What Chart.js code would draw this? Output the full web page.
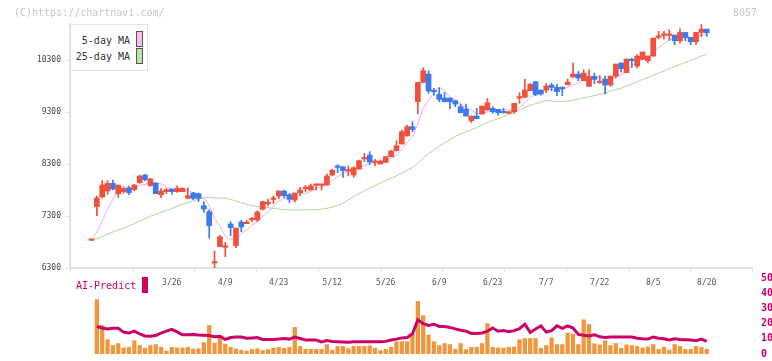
<!DOCTYPE html>
<html>
<head>
<meta charset="utf-8">
<title>8057</title>
<script src="https://cdn.jsdelivr.net/npm/chart.js@4.4.1/dist/chart.umd.min.js"></script>
<style>
  body { margin: 0; background: #fff; }
  #wrap { position: relative; width: 772px; height: 361px; overflow: hidden; font-family: 'DejaVu Sans Mono', monospace; }
  canvas { position: absolute; left: 0; }
  #main { top: 0; }
  #ai { top: 270px; }
  .txt { position: absolute; font-size: 10px; line-height: 12px; white-space: nowrap; }
  .box { position: absolute; }
</style>
</head>
<body>
<div id="wrap">
  <canvas id="main" width="772" height="300"></canvas>
  <canvas id="ai" width="772" height="91"></canvas>

  <div class="txt" style="left:14px;top:7px;color:#c6c6c6">(C)https://chartnavi.com/</div>
  <div class="txt" style="right:15px;top:7px;color:#c6c6c6">8057</div>

  <div class="box" style="left:70px;top:24px;width:76px;height:45px;border:1px solid #e2e2e2;background:#fff"></div>
  <div class="txt" style="left:70px;width:60px;text-align:right;top:35px;color:#333">5-day MA</div>
  <div class="txt" style="left:70px;width:60px;text-align:right;top:51px;color:#333">25-day MA</div>
  <div class="box" style="left:136px;top:31px;width:5px;height:14px;border:1px solid #555;background:#f0c0f0"></div>
  <div class="box" style="left:136px;top:48px;width:5px;height:14px;border:1px solid #555;background:#c0e0b0"></div>

  <div class="txt" style="left:76px;top:280px;color:#cc0066">AI-Predict</div>
  <div class="box" style="left:142px;top:277px;width:6px;height:16px;background:#cc0066"></div>
</div>

<script>
// tick labels
const dateLabels = ['3/26', '4/9', '4/23', '5/12', '5/26', '6/9', '6/23', '7/7', '7/22', '8/5', '8/20'];
const labelIdx = [15, 25, 35, 45, 55, 65, 75, 85, 95, 105, 115];
const priceTicks = [6300, 7300, 8300, 9300, 10300];

// daily candles (index 0 = first day shown)
const opens = [6833,7481,7667,7783,7930,7731,7770,7841,7808,7943, 8091,7885,7937,7712,7770,7821,7770,7770,7642,7744,
  7731,7500,7385,6396,6711,6698,7147,6730,7186,7154, 7230,7224,7430,7539,7622,7687,7783,7712,7609,7751,
  7828,7802,7892,7892,7898,8091,8245,8251,8168,8091, 8206,8400,8476,8335,8303,8335,8444,8560,8688,8842,
  9022,9503,9875,10036,9702,9644,9574,9574,9522,9407, 9362,9137,9227,9266,9343,9375,9355,9294,9278,9311,
  9573,9587,9715,9888,9728,9728,9824,9779,9760,9830, 9978,10036,9907,9798,9991,9868,9933,9824,9997,10248,
  10062,10299,10190,10318,10293,10383,10742,10781,10781,10787, 10678,10838,10742,10658,10838,10902];
const highs = [6833,7687,7982,7982,7995,7898,7847,7879,7911,8091, 8104,8027,7937,7834,7834,7821,7885,7847,7847,7757,
  7744,7577,7423,6627,6923,6794,7192,7070,7218,7224, 7276,7404,7590,7622,7687,7783,7802,7738,7744,7853,
  7892,7918,7918,7918,8110,8200,8290,8251,8264,8251, 8380,8508,8540,8393,8380,8444,8572,8752,8958,9047,
  9118,9875,10158,10100,9760,9773,9676,9574,9522,9458, 9458,9227,9375,9420,9567,9407,9355,9375,9311,9471,
  9676,9933,9856,9888,9728,9856,9856,9837,9792,9940, 10248,10087,10119,10119,10055,10010,9991,9997,10228,10254,
  10325,10344,10408,10460,10383,10729,10857,10857,10890,10787, 10909,10838,10742,10838,10990,10902];
const lows = [6833,7308,7648,7719,7802,7661,7738,7712,7789,7930, 7975,7873,7731,7654,7731,7719,7757,7770,7642,7616,
  7577,7372,6871,6300,6711,6518,6923,6692,7000,7154, 7186,7192,7417,7494,7539,7635,7654,7558,7571,7693,
  7770,7802,7802,7802,7892,8072,8136,8046,8072,8046, 8206,8348,8296,8264,8303,8335,8444,8560,8688,8842,
  8925,9266,9875,9664,9631,9503,9503,9362,9407,9291, 9227,9099,9176,9266,9343,9278,9246,9285,9278,9278,
  9471,9587,9715,9619,9630,9676,9715,9619,9619,9830, 9978,9907,9907,9798,9850,9856,9651,9798,9959,10074,
  10062,10164,10151,10318,10248,10376,10710,10710,10684,10601, 10633,10678,10601,10601,10755,10761];
const closes = [6833,7648,7898,7930,7821,7898,7834,7751,7898,8072, 8001,8014,7731,7783,7808,7770,7834,7834,7693,7642,
  7642,7436,7115,6422,6903,6711,7077,7070,7090,7186, 7243,7378,7577,7545,7629,7783,7693,7622,7744,7802,
  7834,7885,7898,7898,8072,8187,8238,8174,8174,8232, 8367,8406,8341,8341,8354,8444,8553,8656,8925,9022,
  8970,9875,10100,9708,9695,9548,9503,9503,9458,9291, 9227,9227,9176,9420,9484,9311,9291,9291,9311,9471,
  9580,9728,9837,9644,9651,9805,9779,9696,9753,9882, 10036,9959,10055,9991,9933,9875,9824,9997,10228,10139,
  10325,10293,10383,10460,10383,10729,10748,10787,10787,10678, 10838,10735,10658,10838,10902,10832];

// moving averages
const ma5 = [6833,6996,7209,7428,7626,7839,7876,7847,7840,7891, 7911,7947,7943,7920,7867,7821,7785,7806,7788,7755,
  7729,7649,7506,7251,7104,6917,6846,6837,6970,7027, 7133,7193,7295,7386,7474,7582,7645,7654,7694,7729,
  7739,7777,7833,7863,7917,7988,8059,8114,8169,8201, 8237,8271,8304,8337,8362,8377,8408,8471,8588,8719,
  8824,9087,9376,9532,9670,9785,9711,9591,9541,9461, 9396,9341,9276,9268,9307,9324,9336,9359,9338,9335,
  9389,9476,9585,9652,9688,9733,9743,9715,9737,9784, 9830,9866,9938,9985,9995,9963,9936,9924,9971,10013,
  10103,10196,10274,10320,10369,10450,10541,10621,10687,10746, 10768,10765,10739,10749,10794,10793];
const ma25 = [6833,6866,6908,6952,6992,7034,7074,7111,7154,7203, 7250,7297,7333,7371,7410,7447,7488,7528,7562,7594,
  7627,7651,7662,7646,7648,7644,7621,7588,7554,7529, 7502,7484,7477,7463,7445,7437,7424,7419,7418,7418,
  7420,7422,7425,7433,7450,7472,7504,7546,7617,7670, 7736,7789,7840,7890,7937,7985,8032,8075,8130,8186,
  8233,8321,8420,8498,8574,8643,8707,8771,8834,8883, 8924,8964,9004,9054,9104,9142,9177,9215,9254,9298,
  9344,9391,9438,9467,9492,9525,9522,9505,9507,9515, 9534,9552,9575,9596,9622,9647,9671,9704,9736,9763,
  9803,9843,9887,9933,9969,10015,10056,10094,10140,10181, 10222,10261,10299,10342,10383,10415];

// AI-Predict panel
const aiBars = [null,35.8,18.8,9.4,5.6,6.9,4.0,4.4,8.8,5.6, 3.8,5.6,6.2,4.4,1.9,4.4,4.0,4.0,4.4,3.3,
  3.5,7.5,18.8,7.1,11.2,6.5,4.4,3.3,2.5,1.9, 3.0,3.5,2.3,2.9,3.8,4.4,3.8,4.4,17.5,5.0,
  3.1,3.1,3.1,3.1,6.2,2.5,5.0,5.0,3.5,5.0, 5.0,5.0,5.4,3.8,2.3,3.1,4.4,8.1,8.1,8.1,
  12.9,34.6,25.2,12.5,8.1,5.6,6.9,6.2,3.1,6.9, 2.9,4.4,4.4,6.9,20.0,4.4,4.0,3.9,4.5,4.6,
  9.4,10.2,10.2,10.2,3.8,5.6,10.6,6.2,6.2,13.8, 13.1,6.2,22.5,19.4,6.7,6.0,8.8,5.6,6.9,3.8,
  6.0,5.6,5.0,4.0,4.6,6.2,3.1,4.6,2.5,6.2, 5.0,3.1,3.1,5.0,4.4,3.1];
const aiLine = [null,18.1,17.1,16.5,16.9,16.9,14.4,13.8,15.0,13.3, 11.9,11.7,12.1,13.8,15.0,16.2,14.6,12.7,12.7,12.9,
  12.5,12.3,12.1,11.3,11.7,9.6,10.8,11.2,11.2,10.4, 10.6,10.8,9.6,9.6,9.6,9.8,10.2,9.8,11.2,10.2,
  9.2,9.2,9.2,7.9,8.8,8.3,8.1,7.9,7.7,8.1, 8.1,8.1,8.1,8.1,8.1,8.3,9.2,9.8,10.6,10.8,
  13.3,22.5,20.0,18.8,19.6,18.1,18.1,17.5,16.5,15.6, 15.0,13.5,13.5,13.8,15.0,17.1,15.0,15.4,14.6,15.4,
  16.7,19.6,14.2,16.5,18.5,14.4,15.4,18.5,16.9,18.5, 17.1,12.9,12.3,11.9,12.7,11.3,10.8,11.2,11.2,11.2,
  11.2,11.2,10.4,10.0,9.8,11.2,10.4,10.0,9.2,10.0, 9.6,9.4,9.2,8.8,9.8,8.3];

const FONT = "'DejaVu Sans Mono', monospace";
const RED = '#f0503c';
const BLUE = '#3c78f0';
const AXIS = '#e2e2e2';
const xMin = -4.02;
const xMax = 123.46;

Chart.defaults.font.family = FONT;

const idx = closes.map((c, i) => i);
const candleColors = idx.map(i => closes[i] >= opens[i] ? RED : BLUE);

// price panel
new Chart(document.getElementById('main'), {
  type: 'bar',
  data: {
    datasets: [
      {
        type: 'line', label: '5-day MA', xAxisID: 'x', order: 3,
        data: idx.map(i => ({ x: i, y: ma5[i] })),
        borderColor: '#e6aee6', borderWidth: 1, pointRadius: 0
      },
      {
        type: 'line', label: '25-day MA', xAxisID: 'x', order: 4,
        data: idx.map(i => ({ x: i, y: ma25[i] })),
        borderColor: '#acd69c', borderWidth: 1, pointRadius: 0
      },
      {
        label: 'wick', xAxisID: 'x', order: 2, grouped: false,
        data: idx.map(i => ({ x: i, y: [lows[i], highs[i]] })),
        backgroundColor: candleColors, barThickness: 1
      },
      {
        label: 'body', xAxisID: 'x', order: 1, grouped: false,
        data: idx.map(i => ({ x: i, y: [opens[i], closes[i]] })),
        backgroundColor: candleColors, barThickness: 5, minBarLength: 1.5
      }
    ]
  },
  options: {
    responsive: false,
    animation: false,
    devicePixelRatio: 1,
    layout: { padding: { top: 24, right: 20, bottom: 6, left: 0 } },
    plugins: { legend: { display: false }, tooltip: { enabled: false } },
    scales: {
      xg: {
        type: 'linear', position: 'bottom', weight: 0, min: xMin, max: xMax,
        bounds: 'data', offset: false,
        afterBuildTicks: s => {
          s.ticks = Array.from({ length: 12 }, (v, k) => ({ value: xMin + k * (xMax - xMin) / 11 }));
        },
        afterFit: s => { s.height = 6; },
        ticks: { display: false },
        grid: { drawOnChartArea: false, offset: false, tickLength: 4, color: AXIS },
        border: { color: AXIS, width: 2 }
      },
      x: {
        type: 'linear', position: 'bottom', weight: 1, min: xMin, max: xMax,
        bounds: 'data', offset: false,
        afterBuildTicks: s => { s.ticks = labelIdx.map(v => ({ value: v })); },
        afterFit: s => { s.height = 20; },
        ticks: {
          autoSkip: false, maxRotation: 0, padding: -4, color: '#555',
          font: { size: 8 },
          callback: (v, k) => dateLabels[k]
        },
        grid: { display: false, offset: false },
        border: { display: false }
      },
      y: {
        position: 'left', min: 6300, max: 11000, beginAtZero: false,
        afterBuildTicks: s => { s.ticks = priceTicks.map(v => ({ value: v })); },
        afterFit: s => { s.width = 70; },
        ticks: { color: '#444', padding: 4, font: { size: 8 }, callback: v => String(v) },
        grid: { drawOnChartArea: false, tickLength: 5, color: AXIS },
        border: { color: AXIS, width: 2 }
      }
    }
  }
});

// AI-Predict panel
new Chart(document.getElementById('ai'), {
  type: 'bar',
  data: {
    datasets: [
      {
        type: 'line', label: 'AI-Predict', order: 1,
        data: idx.map(i => ({ x: i, y: aiLine[i] })),
        borderColor: '#cc0066', borderWidth: 3, pointRadius: 0
      },
      {
        label: 'volume', order: 2,
        data: idx.map(i => ({ x: i, y: aiBars[i] })),
        backgroundColor: '#f0963c', barThickness: 3.6
      }
    ]
  },
  options: {
    responsive: false,
    animation: false,
    devicePixelRatio: 1,
    layout: { padding: { top: 8, right: 0, bottom: 3, left: 70 } },
    plugins: { legend: { display: false }, tooltip: { enabled: false } },
    scales: {
      x: { type: 'linear', display: false, min: xMin, max: xMax, bounds: 'data', offset: false },
      y: {
        position: 'right', min: 0, max: 50,
        afterFit: s => { s.width = 20; },
        ticks: { stepSize: 10, padding: 1, color: '#cc0066', font: { size: 10, weight: 'bold' } },
        grid: { display: false },
        border: { display: false }
      }
    }
  }
});
</script>
</body>
</html>
